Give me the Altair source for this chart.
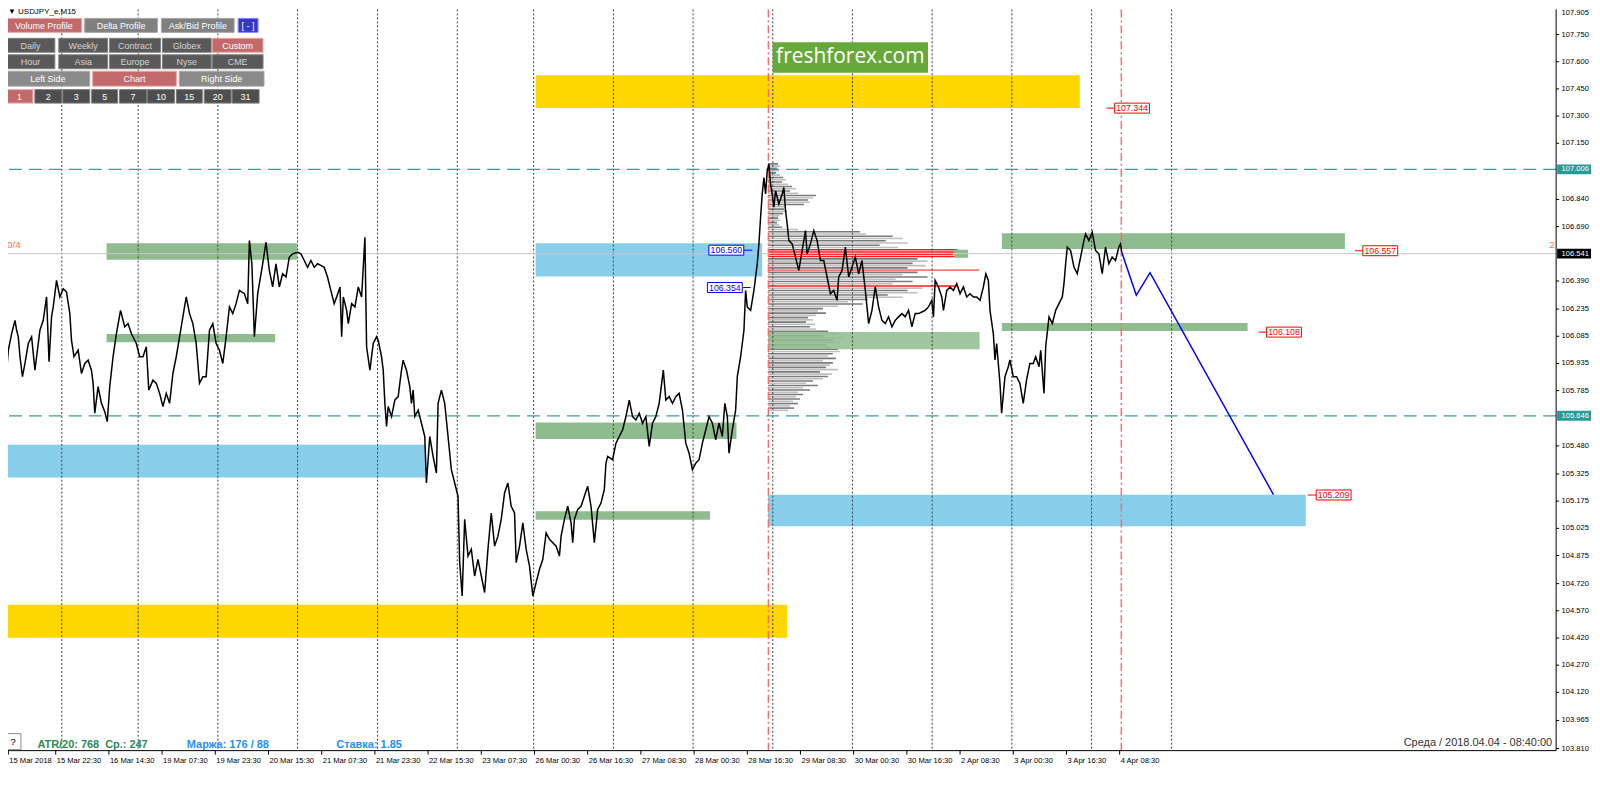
import altair as alt
import pandas as pd

# ---------------- layout of the plot area ----------------
W, H = 1554, 744
BAR_MIN, BAR_MAX = 6.6, 1869.1          # M15 bar index
P_MIN, P_MAX = 103.7984, 107.8885        # price

# ---------------- axis labels ----------------
DATE_LABELS = ["15 Mar 2018", "15 Mar 22:30", "16 Mar 14:30", "19 Mar 07:30", "19 Mar 23:30",
               "20 Mar 15:30", "21 Mar 07:30", "21 Mar 23:30", "22 Mar 15:30", "23 Mar 07:30",
               "26 Mar 00:30", "26 Mar 16:30", "27 Mar 08:30", "28 Mar 00:30", "28 Mar 16:30",
               "29 Mar 08:30", "30 Mar 00:30", "30 Mar 16:30", "2 Apr 08:30", "3 Apr 00:30",
               "3 Apr 16:30", "4 Apr 08:30"]
DATE_BARS = [7] + [64 * k for k in range(1, 22)]
PRICE_TICKS = [107.750, 107.600, 107.450, 107.300, 107.150, 106.840, 106.690, 106.390,
               106.235, 106.085, 105.935, 105.785, 105.480, 105.325, 105.175, 105.025,
               104.875, 104.720, 104.570, 104.420, 104.270, 104.120, 103.965, 103.810]
TOP_PRICE_LABEL = "107.905"

# ---------------- USDJPY M15 close (bar, price) ----------------
PRICE_LINE = [
    (1, 105.990), (4, 105.843), (7, 106.008), (11, 106.100), (15, 106.173), (17, 106.118),
    (19, 106.082), (21, 105.972), (24, 105.862), (27, 105.935), (31, 106.045), (35, 106.082),
    (39, 105.898), (41, 105.972), (45, 106.118), (49, 106.173), (53, 106.302), (56, 105.944),
    (59, 106.192), (61, 106.247), (65, 106.393), (69, 106.302), (73, 106.347), (77, 106.329),
    (81, 106.210), (83, 106.063), (86, 105.972), (91, 106.008), (95, 105.880), (99, 105.935),
    (103, 105.953), (107, 105.898), (109, 105.825), (111, 105.660), (115, 105.807), (119, 105.715),
    (123, 105.669), (126, 105.614), (129, 105.807), (133, 105.972), (137, 106.100), (142, 106.228),
    (147, 106.137), (151, 106.155), (155, 106.100), (161, 106.045), (165, 105.972), (169, 105.972),
    (173, 106.027), (176, 105.788), (181, 105.843), (185, 105.825), (189, 105.770), (193, 105.697),
    (197, 105.770), (201, 105.715), (205, 105.880), (209, 105.972), (213, 106.082), (217, 106.192),
    (221, 106.302), (225, 106.210), (229, 106.155), (233, 106.045), (237, 105.825), (241, 105.862),
    (245, 105.862), (249, 106.118), (253, 106.155), (257, 106.045), (261, 106.008), (265, 105.935),
    (269, 106.082), (273, 106.247), (277, 106.210), (281, 106.265), (285, 106.338), (291, 106.320),
    (295, 106.265), (297, 106.613), (300, 106.485), (303, 106.082), (307, 106.320), (313, 106.485),
    (317, 106.604), (321, 106.448), (325, 106.357), (329, 106.485), (333, 106.357), (337, 106.430),
    (341, 106.412), (345, 106.521), (349, 106.540), (355, 106.549), (359, 106.540), (363, 106.503),
    (367, 106.466), (371, 106.503), (375, 106.466), (379, 106.485), (383, 106.476), (387, 106.466),
    (391, 106.412), (395, 106.338), (399, 106.265), (402, 106.302), (406, 106.357), (408, 106.082),
    (410, 106.302), (414, 106.228), (416, 106.155), (420, 106.265), (424, 106.247), (428, 106.357),
    (432, 106.302), (436, 106.631), (438, 106.027), (442, 105.898), (446, 106.045), (450, 106.082),
    (452, 106.063), (456, 105.972), (458, 105.898), (460, 105.715), (462, 105.587), (464, 105.697),
    (468, 105.642), (472, 105.733), (476, 105.752), (480, 105.898), (482, 105.953), (486, 105.898),
    (490, 105.807), (492, 105.715), (494, 105.788), (496, 105.642), (500, 105.678), (504, 105.605),
    (508, 105.532), (510, 105.275), (514, 105.532), (518, 105.422), (522, 105.330), (524, 105.715),
    (528, 105.788), (532, 105.715), (536, 105.532), (540, 105.349), (544, 105.275), (548, 105.202),
    (550, 104.836), (553, 104.652), (556, 105.075), (560, 104.872), (564, 104.909), (568, 104.762),
    (572, 104.854), (576, 104.762), (580, 104.671), (584, 104.909), (588, 105.110), (592, 104.927),
    (596, 104.982), (600, 105.075), (604, 105.220), (608, 105.275), (612, 105.147), (616, 105.110),
    (618, 104.836), (622, 104.927), (626, 105.055), (630, 104.909), (634, 104.817), (638, 104.652),
    (642, 104.726), (646, 104.799), (650, 104.854), (654, 105.000), (658, 104.964), (662, 104.946),
    (666, 104.927), (670, 104.872), (672, 104.982), (676, 105.075), (680, 105.147), (684, 105.055),
    (686, 104.946), (688, 105.075), (692, 105.129), (696, 105.147), (700, 105.202), (704, 105.257),
    (708, 105.147), (712, 104.946), (716, 105.129), (720, 105.165), (724, 105.239), (726, 105.385),
    (728, 105.422), (734, 105.404), (738, 105.495), (742, 105.532), (746, 105.568), (750, 105.642),
    (754, 105.733), (758, 105.642), (762, 105.623), (766, 105.660), (770, 105.605), (774, 105.642),
    (778, 105.477), (782, 105.605), (786, 105.642), (790, 105.715), (792, 105.788), (795, 105.898),
    (798, 105.733), (802, 105.752), (806, 105.715), (810, 105.752), (814, 105.770), (818, 105.678),
    (822, 105.495), (826, 105.440), (830, 105.349), (834, 105.385), (838, 105.404), (842, 105.495),
    (846, 105.568), (850, 105.642), (854, 105.605), (858, 105.514), (862, 105.605), (866, 105.532),
    (869, 105.715), (872, 105.642), (874, 105.440), (878, 105.568), (882, 105.678), (884, 105.862),
    (888, 105.972), (892, 106.118), (894, 106.338), (896, 106.247), (900, 106.228), (904, 106.338),
    (908, 106.485), (910, 106.595), (912, 106.742), (914, 106.870), (916, 106.961), (918, 106.870),
    (920, 106.998), (922, 107.035), (924, 106.925), (926, 106.870), (928, 106.797), (930, 106.888),
    (934, 106.815), (938, 106.870), (940, 106.906), (942, 106.778), (944, 106.705), (946, 106.613),
    (950, 106.595), (954, 106.522), (958, 106.448), (962, 106.558), (966, 106.668), (968, 106.540),
    (972, 106.595), (976, 106.668), (980, 106.613), (984, 106.503), (988, 106.503), (992, 106.412),
    (996, 106.320), (1000, 106.338), (1004, 106.283), (1006, 106.412), (1010, 106.448), (1014, 106.577),
    (1018, 106.412), (1022, 106.467), (1026, 106.522), (1030, 106.430), (1034, 106.503), (1038, 106.338),
    (1040, 106.247), (1042, 106.155), (1046, 106.228), (1050, 106.357), (1054, 106.247), (1058, 106.173),
    (1062, 106.155), (1066, 106.192), (1070, 106.137), (1074, 106.173), (1078, 106.192), (1082, 106.210),
    (1086, 106.192), (1090, 106.228), (1094, 106.137), (1098, 106.210), (1102, 106.210), (1106, 106.219),
    (1110, 106.228), (1114, 106.247), (1118, 106.283), (1120, 106.192), (1122, 106.393), (1126, 106.357),
    (1130, 106.302), (1132, 106.228), (1136, 106.338), (1140, 106.357), (1144, 106.338), (1148, 106.375),
    (1152, 106.320), (1156, 106.357), (1160, 106.302), (1164, 106.320), (1168, 106.302), (1172, 106.302),
    (1176, 106.283), (1180, 106.357), (1183, 106.430), (1186, 106.393), (1188, 106.228), (1192, 106.100),
    (1194, 105.954), (1196, 106.045), (1198, 105.935), (1200, 105.825), (1202, 105.660), (1206, 105.862),
    (1210, 105.917), (1212, 105.954), (1216, 105.862), (1220, 105.862), (1224, 105.825), (1228, 105.715),
    (1232, 105.844), (1236, 105.935), (1240, 105.935), (1243, 105.972), (1247, 105.917), (1249, 106.008),
    (1253, 105.770), (1255, 106.027), (1259, 106.192), (1263, 106.155), (1267, 106.228), (1271, 106.265),
    (1275, 106.302), (1277, 106.375), (1279, 106.485), (1281, 106.577), (1285, 106.558), (1289, 106.467),
    (1293, 106.430), (1297, 106.522), (1301, 106.613), (1303, 106.650), (1307, 106.613), (1311, 106.659),
    (1315, 106.558), (1319, 106.540), (1323, 106.430), (1327, 106.577), (1331, 106.485), (1335, 106.522),
    (1339, 106.503), (1343, 106.577), (1345, 106.595), (1346.5, 106.549),
]
FORECAST = [(1346.5, 106.549), (1364, 106.311), (1380.5, 106.436), (1529, 105.211)]

# ---------------- levels / separators ----------------
DAY_SEPARATORS = [71.3, 163.2, 259.1, 355.0, 451.2, 547.1, 639.0, 734.9, 830.8,
                  926.7, 1022.5, 1118.4, 1214.3, 1310.2, 1406.5]
SESSION_MARKS = [921.4, 1346.0]
TEAL_LEVELS = [107.006, 105.646]
CURRENT_PRICE = 106.541

# zones: bar_from, bar_to, price_low, price_high, colour, opacity
ZONES = [
    (125.2, 354.2, 106.507, 106.598, "#8FBC8F", 1.0),
    (125.2, 328.0, 106.052, 106.098, "#8FBC8F", 1.0),
    (0, 508.8, 105.306, 105.486, "#87CEEB", 1.0),
    (0, 944.0, 104.421, 104.603, "#FFD700", 1.0),
    (641.4, 913.9, 106.415, 106.598, "#87CEEB", 1.0),
    (641.4, 883.0, 105.518, 105.609, "#8FBC8F", 1.0),
    (641.4, 851.2, 105.072, 105.119, "#8FBC8F", 1.0),
    (921.0, 1175.5, 106.014, 106.109, "#8FBC8F", 0.85),
    (1145.0, 1161.6, 106.518, 106.562, "#8FBC8F", 1.0),
    (1202.3, 1615.0, 106.567, 106.653, "#8FBC8F", 1.0),
    (1202.3, 1497.9, 106.114, 106.158, "#8FBC8F", 1.0),
    (921.0, 1567.9, 105.037, 105.211, "#87CEEB", 1.0),
    (641.4, 1296.0, 107.344, 107.526, "#FFD700", 1.0),
]

# ---------------- volume profile ----------------
PROFILE_START = 921.1
PROFILE_TOP = 107.0364
PROFILE_STEP = 0.012479
PROFILE_VOL = [10, 12, 9, 11, 8, 12, 15, 18, 14, 20, 24, 28, 22, 30, 48, 45, 40, 42, 36,
               18, 16, 19, 15, 11, 10, 12, 9, 11, 14, 30, 92, 98, 125, 135, 118, 140, 112, 130,
               190, 195, 186, 192, 150, 160, 145, 158, 140, 212, 150, 135, 160, 128, 145, 125,
               190, 155, 140, 150, 120, 135, 100, 80, 95, 70, 55, 50, 58, 48, 40, 45, 38, 47,
               42, 48, 60, 70, 55, 75, 65, 72, 58, 62, 70, 72, 65, 60, 68, 55, 65, 62, 58, 70,
               52, 64, 60, 55, 45, 38, 50, 35, 42, 30, 35, 28, 32, 25, 30, 22, 26, 20]
PROFILE_RED = [38, 39, 40, 41, 54]
PROFILE_PINK = [47]
VOL_TO_BARS = 1.1985

# ---------------- price tags ----------------
CHART_TAGS = [
    ("106.560", 870.8, 106.560, "#0000FF", 892, 902),
    ("106.354", 869.0, 106.354, "#0000FF", 891, 900),
    ("107.344", 1358.9, 107.344, "#FF0000", 1328, 1338.5),
    ("106.557", 1657.5, 106.557, "#FF0000", 1627, 1637),
    ("106.108", 1541.7, 106.108, "#FF0000", 1511, 1520),
    ("105.209", 1601.4, 105.209, "#FF0000", 1570, 1581),
]
AXIS_TAGS = [("107.006", 107.006, "#2A9A96"), ("106.541", 106.541, "#000000"),
             ("105.646", 105.646, "#2A9A96")]

# ---------------- panel buttons (screen UI) ----------------
BUTTON_STYLES = {
    "active": ("#C26A6B", "#EFA6A6", "#FFFFFF"),
    "grey": ("#808080", "#A6A6A6", "#FFFFFF"),
    "dark": ("#595959", "#7E7E7E", "#D4D4D4"),
    "side": ("#8A8A8A", "#AAAAAA", "#FFFFFF"),
    "num": ("#4E4E4E", "#777777", "#FFFFFF"),
    "blue": ("#3636CC", "#8A8AFF", "#FFFFFF"),
}
BUTTONS = [
    ("Volume Profile", -2, 74, 9, 23, "active"), ("Delta Profile", 77, 150, 9, 23, "grey"),
    ("Ask/Bid Profile", 154, 227, 9, 23, "grey"), ("[ - ]", 231, 251, 9, 23, "blue"),
    ("Daily", -2, 47, 29, 43, "dark"), ("Weekly", 51, 100, 29, 43, "dark"),
    ("Contract", 102, 153, 29, 43, "dark"), ("Globex", 155, 204, 29, 43, "dark"),
    ("Custom", 205, 256, 29, 43, "active"),
    ("Hour", -2, 47, 45.5, 59.5, "dark"), ("Asia", 51, 100, 45.5, 59.5, "dark"),
    ("Europe", 102, 153, 45.5, 59.5, "dark"), ("Nyse", 155, 204, 45.5, 59.5, "dark"),
    ("CME", 205, 256, 45.5, 59.5, "dark"),
    ("Left Side", -2, 82, 62, 77, "side"), ("Chart", 85, 169, 62, 77, "active"),
    ("Right Side", 172, 257, 62, 77, "side"),
    ("1", -2, 25, 80.5, 94, "active"), ("2", 27, 54, 80.5, 94, "num"), ("3", 55, 82, 80.5, 94, "num"),
    ("5", 84, 110, 80.5, 94, "num"), ("7", 112, 139, 80.5, 94, "num"), ("10", 140, 167, 80.5, 94, "num"),
    ("15", 169, 195, 80.5, 94, "num"), ("20", 197, 224, 80.5, 94, "num"), ("31", 225, 252, 80.5, 94, "num"),
]
INFO_TEXTS = [
    ("ATR/20: 768", 29.5, 738, "#2E8B57"), ("Ср.: 247", 97.5, 738, "#2E8B57"),
    ("Маржа: 176 / 88", 179.5, 738, "#1E90FF"), ("Ставка: 1.85", 329.5, 738, "#1E90FF"),
]
FONT = "Liberation Sans"

# ================= build =================
xs = alt.Scale(domain=[BAR_MIN, BAR_MAX], nice=False, zero=False)
ys = alt.Scale(domain=[P_MIN, P_MAX], nice=False, zero=False)


def bx(field="bar"):
    return alt.X(field + ":Q", scale=xs, axis=None, title=None)


def py(field="price"):
    return alt.Y(field + ":Q", scale=ys, axis=None, title=None)


def px(field):
    return alt.X(field + ":Q", scale=None, axis=None, title=None)


def pyy(field):
    return alt.Y(field + ":Q", scale=None, axis=None, title=None)


line_df = pd.DataFrame(PRICE_LINE, columns=["bar", "price"])
fc_df = pd.DataFrame(FORECAST, columns=["bar", "price"])
zones_df = pd.DataFrame(ZONES, columns=["b0", "b1", "p0", "p1", "color", "op"])

prof_rows = []
for i, v in enumerate(PROFILE_VOL):
    if i in PROFILE_RED:
        col = "#FF1A1A"
    elif i in PROFILE_PINK:
        col = "#FF7A7A"
    else:
        col = "#7A7A7A" if i % 2 == 0 else "#BEBEBE"
    prof_rows.append({"bar": PROFILE_START, "bar2": PROFILE_START + v * VOL_TO_BARS,
                      "price": PROFILE_TOP - i * PROFILE_STEP, "color": col})
prof_df = pd.DataFrame(prof_rows)

profile = alt.Chart(prof_df).mark_rule(strokeWidth=1.6, clip=True).encode(
    x=bx("bar"), x2="bar2:Q", y=py(), color=alt.Color("color:N", scale=None))

zones = alt.Chart(zones_df).mark_rect(clip=True).encode(
    x=bx("b0"), x2="b1:Q", y=py("p0"), y2="p1:Q",
    color=alt.Color("color:N", scale=None), opacity=alt.Opacity("op:Q", scale=None))

seps = alt.Chart(pd.DataFrame({"bar": DAY_SEPARATORS})).mark_rule(
    color="#3C3C3C", strokeDash=[2, 2], strokeWidth=1).encode(x=bx())
sess = alt.Chart(pd.DataFrame({"bar": SESSION_MARKS})).mark_rule(
    color="#FF6A6A", strokeDash=[8, 3, 2, 3], strokeWidth=1.5).encode(x=bx())
teal = alt.Chart(pd.DataFrame({"price": TEAL_LEVELS})).mark_rule(
    color="#36A09C", strokeDash=[13, 7], strokeWidth=1.3).encode(y=py())
cur = alt.Chart(pd.DataFrame({"price": [CURRENT_PRICE]})).mark_rule(
    color="#C8C8C8", strokeWidth=1).encode(y=py())

price_line = alt.Chart(line_df).mark_line(color="#000000", strokeWidth=1.5, clip=True).encode(
    x=bx(), y=py())
forecast = alt.Chart(fc_df).mark_line(color="#0000FF", strokeWidth=1.5, clip=True).encode(
    x=bx(), y=py())

tags_df = pd.DataFrame(CHART_TAGS, columns=["label", "bar", "price", "color", "l0", "l1"])
tag_lines = alt.Chart(tags_df).mark_rule(strokeWidth=1).encode(
    x=bx("l0"), x2="l1:Q", y=py(), color=alt.Color("color:N", scale=None))
tag_boxes = alt.Chart(tags_df).mark_rect(width=35, height=10, fill="#FFFFFF", strokeWidth=1).encode(
    x=bx(), y=py(), stroke=alt.Stroke("color:N", scale=None))
tag_text = alt.Chart(tags_df).mark_text(fontSize=8.8, font=FONT, baseline="middle").encode(
    x=bx(), y=py(), text="label:N", color=alt.Color("color:N", scale=None))

# ---- axes (drawn through the same scales) ----
date_df = pd.DataFrame({"bar": DATE_BARS, "label": DATE_LABELS})
date_ticks = alt.Chart(date_df).mark_rule(color="#000000", strokeWidth=1).encode(
    x=bx(), y=alt.value(H), y2=alt.value(H + 4))
date_text = alt.Chart(date_df).mark_text(align="left", baseline="top", fontSize=7.6, font=FONT,
                                         color="#000000", dx=1).encode(
    x=bx(), y=alt.value(H + 6), text="label:N")
price_df = pd.DataFrame({"price": PRICE_TICKS, "label": ["%.3f" % p for p in PRICE_TICKS]})
price_ticks = alt.Chart(price_df).mark_rule(color="#000000", strokeWidth=1).encode(
    x=alt.value(W), x2=alt.value(W + 3), y=py())
price_text = alt.Chart(price_df).mark_text(align="left", baseline="middle", fontSize=7.6, font=FONT,
                                           color="#000000").encode(
    x=alt.value(W + 5.5), y=py(), text="label:N")
top_label = alt.Chart(pd.DataFrame({"t": [TOP_PRICE_LABEL]})).mark_text(
    align="left", baseline="top", fontSize=7.6, font=FONT, color="#000000").encode(
    x=alt.value(W + 5.5), y=alt.value(0), text="t:N")
frame_b = alt.Chart(pd.DataFrame({"a": [0]})).mark_rule(color="#000000", strokeWidth=1).encode(
    x=alt.value(0), x2=alt.value(W), y=alt.value(H))
frame_r = alt.Chart(pd.DataFrame({"a": [0]})).mark_rule(color="#000000", strokeWidth=1).encode(
    x=alt.value(W), y=alt.value(0), y2=alt.value(H))

ax_df = pd.DataFrame(AXIS_TAGS, columns=["label", "price", "fill"])
ax_boxes = alt.Chart(ax_df).mark_rect(height=10).encode(
    x=alt.value(W + 1), x2=alt.value(W + 35), y=py(), color=alt.Color("fill:N", scale=None))
ax_text = alt.Chart(ax_df).mark_text(align="left", baseline="middle", fontSize=7.6, font=FONT,
                                     color="#FFFFFF").encode(x=alt.value(W + 5.5), y=py(), text="label:N")

cur_text_l = alt.Chart(pd.DataFrame({"price": [CURRENT_PRICE], "t": ["0/4"]})).mark_text(
    align="left", dy=-9, fontSize=10, font=FONT, color="#FF6F3C").encode(
    x=alt.value(-1), y=py(), text="t:N")
cur_text_r = alt.Chart(pd.DataFrame({"price": [CURRENT_PRICE], "t": ["2"]})).mark_text(
    align="left", dy=-9, fontSize=10, font=FONT, color="#FF6F3C").encode(
    x=alt.value(W - 7), y=py(), text="t:N")

# ---- panel UI ----
brows = []
for lab, x0, x1, y0, y1, st in BUTTONS:
    f, s, t = BUTTON_STYLES[st]
    brows.append({"label": lab, "x0": x0, "x1": x1, "y0": y0, "y1": y1, "fill": f, "stroke": s,
                  "tc": t, "xc": (x0 + x1) / 2, "yc": (y0 + y1) / 2 + 0.5})
btn_df = pd.DataFrame(brows)
btn_rect = alt.Chart(btn_df).mark_rect(strokeWidth=1).encode(
    x=px("x0"), x2="x1:Q", y=pyy("y0"), y2="y1:Q",
    fill=alt.Fill("fill:N", scale=None), stroke=alt.Stroke("stroke:N", scale=None))
btn_text = alt.Chart(btn_df).mark_text(fontSize=9, font=FONT, baseline="middle").encode(
    x=px("xc"), y=pyy("yc"), text="label:N", color=alt.Color("tc:N", scale=None))
title_txt = alt.Chart(pd.DataFrame({"t": ["▼ USDJPY_e,M15"]})).mark_text(
    align="left", baseline="middle", fontSize=8, font=FONT, color="#000000").encode(
    x=alt.value(0), y=alt.value(3), text="t:N")

info_df = pd.DataFrame(INFO_TEXTS, columns=["t", "x", "y", "c"])
info = alt.Chart(info_df).mark_text(align="left", baseline="middle", fontSize=11, font=FONT,
                                    fontWeight="bold").encode(
    x=px("x"), y=pyy("y"), text="t:N", color=alt.Color("c:N", scale=None))
qbox = alt.Chart(pd.DataFrame({"a": [0]})).mark_rect(fill="#FFFFFF", stroke="#8A8A8A", strokeWidth=1).encode(
    x=alt.value(-3), x2=alt.value(13), y=alt.value(727), y2=alt.value(743))
qtext = alt.Chart(pd.DataFrame({"t": ["?"]})).mark_text(fontSize=10, font=FONT, color="#000000").encode(
    x=alt.value(5), y=alt.value(735), text="t:N")
clock = alt.Chart(pd.DataFrame({"t": ["Среда / 2018.04.04 - 08:40:00"]})).mark_text(
    align="right", baseline="middle", fontSize=11, font=FONT, color="#333333").encode(
    x=alt.value(W - 4), y=alt.value(736), text="t:N")

logo_rect = alt.Chart(pd.DataFrame({"a": [0]})).mark_rect(fill="#67A83A").encode(
    x=alt.value(767.5), x2=alt.value(923.5), y=alt.value(33), y2=alt.value(63.5))
logo_text = alt.Chart(pd.DataFrame({"t": ["freshforex.com"]})).mark_text(
    fontSize=21, font="Open Sans", color="#FFFFFF", baseline="middle").encode(
    x=alt.value(845.5), y=alt.value(47.5), text="t:N")

chart = alt.layer(
    profile, zones, seps, sess, teal, cur,
    price_line, forecast, tag_lines, tag_boxes, tag_text,
    frame_b, frame_r, date_ticks, date_text, price_ticks, price_text, top_label,
    ax_boxes, ax_text, cur_text_l, cur_text_r,
    logo_rect, logo_text,
    btn_rect, btn_text, title_txt, info, qbox, qtext, clock,
).properties(
    width=W, height=H, background="#FFFFFF",
    autosize=alt.AutoSizeParams(type="none"),
    padding={"left": 0, "top": 0, "right": 36, "bottom": 20},
).configure_view(stroke=None)

chart.save("out.html", embed_options={"renderer": "svg", "actions": False})
